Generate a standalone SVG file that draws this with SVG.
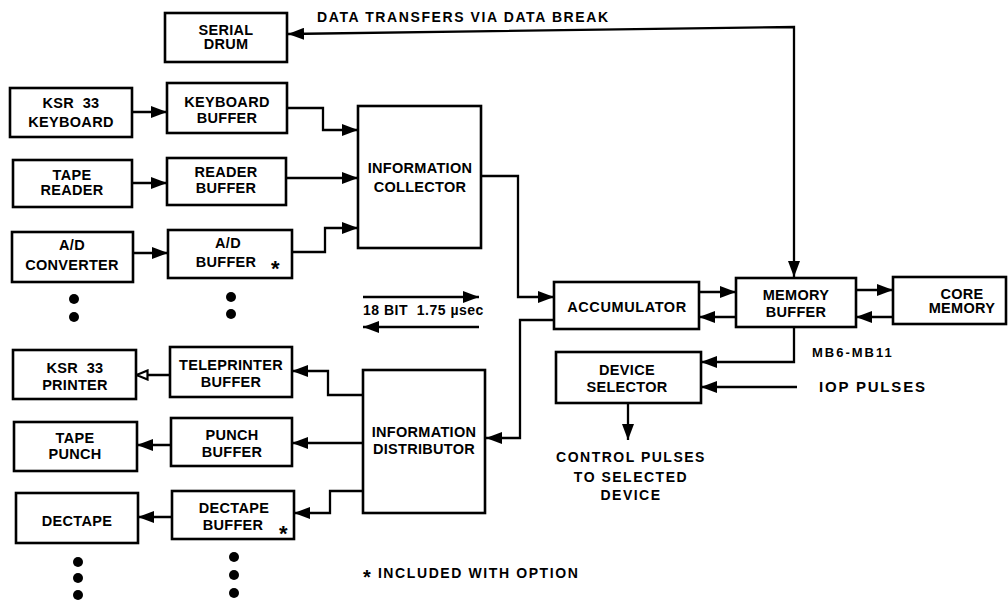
<svg xmlns="http://www.w3.org/2000/svg" width="1008" height="607" viewBox="0 0 1008 607">
  <defs>
    <style>
      .box { fill: #ffffff; stroke: #000000; stroke-width: 2.6; }
      .wire { fill: none; stroke: #000000; stroke-width: 2.3; }
      .lbl { font-family: "Liberation Sans", Arial, sans-serif; font-weight: bold; font-size: 14.5px; letter-spacing: 0.3px; fill: #000000; text-anchor: middle; }
      .note { font-family: "Liberation Sans", Arial, sans-serif; font-weight: bold; font-size: 14px; letter-spacing: 1.6px; fill: #000000; }
      .star { font-family: "Liberation Sans", Arial, sans-serif; font-weight: bold; font-size: 22px; fill: #000000; }
      .dot { fill: #000000; }
    </style>
    <marker id="arrow" markerUnits="userSpaceOnUse" markerWidth="16" markerHeight="12" refX="16" refY="6" orient="auto-start-reverse">
      <path d="M0,0 L16,6 L0,12 Z" fill="#000000"/>
    </marker>
    <marker id="arrowOpen" markerUnits="userSpaceOnUse" markerWidth="14" markerHeight="12" refX="13" refY="6" orient="auto">
      <path d="M1.5,1.5 L12.5,6 L1.5,10.5 Z" fill="#ffffff" stroke="#000000" stroke-width="2.2"/>
    </marker>
  </defs>

  <!-- connectors -->
  <g id="connectors">
    <!-- data break path between drum and memory buffer -->
    <path class="wire" d="M288,34 L794,27 L794,277" marker-start="url(#arrow)" marker-end="url(#arrow)"/>
    <!-- input devices to their buffers -->
    <path class="wire" d="M132,112 H167" marker-end="url(#arrow)"/>
    <path class="wire" d="M132,183 H167" marker-end="url(#arrow)"/>
    <path class="wire" d="M133,253 H168" marker-end="url(#arrow)"/>
    <!-- input buffers to collector -->
    <path class="wire" d="M287,108 H323 V130 H358" marker-end="url(#arrow)"/>
    <path class="wire" d="M286,178 H358" marker-end="url(#arrow)"/>
    <path class="wire" d="M292,252 H325 V228 H358" marker-end="url(#arrow)"/>
    <!-- collector / accumulator / distributor -->
    <path class="wire" d="M481,176 H518 V297 H554" marker-end="url(#arrow)"/>
    <path class="wire" d="M554,320 H520 V438 H486" marker-end="url(#arrow)"/>
    <!-- accumulator and memory buffer -->
    <path class="wire" d="M699,292 H736" marker-end="url(#arrow)"/>
    <path class="wire" d="M736,317 H699" marker-end="url(#arrow)"/>
    <!-- memory buffer and core memory -->
    <path class="wire" d="M856,290 H893" marker-end="url(#arrow)"/>
    <path class="wire" d="M893,317 H856" marker-end="url(#arrow)"/>
    <!-- device selector inputs and output -->
    <path class="wire" d="M794,327 V362 H701" marker-end="url(#arrow)"/>
    <path class="wire" d="M797,387 H701" marker-end="url(#arrow)"/>
    <path class="wire" d="M628,403 V440" marker-end="url(#arrow)"/>
    <!-- distributor to output buffers -->
    <path class="wire" d="M363,395 H328 V371 H292" marker-end="url(#arrow)"/>
    <path class="wire" d="M363,443 H292" marker-end="url(#arrow)"/>
    <path class="wire" d="M363,491 H330 V513 H294" marker-end="url(#arrow)"/>
    <!-- output buffers to devices -->
    <path class="wire" d="M170,375 H136" marker-end="url(#arrowOpen)"/>
    <path class="wire" d="M171,445 H137" marker-end="url(#arrow)"/>
    <path class="wire" d="M172,517 H138" marker-end="url(#arrow)"/>
    <!-- 18 bit transfer direction arrows -->
    <path class="wire" d="M363,297 H479" marker-end="url(#arrow)"/>
    <path class="wire" d="M479,327 H363" marker-end="url(#arrow)"/>
  </g>

  <!-- nodes -->
  <g id="serial-drum">
    <rect class="box" x="165" y="13" width="122" height="49"/>
    <text class="lbl" x="226" y="35">SERIAL</text>
    <text class="lbl" x="226" y="49">DRUM</text>
  </g>
  <g id="ksr-keyboard">
    <rect class="box" x="10" y="88" width="122" height="49"/>
    <text class="lbl" x="71" y="108" xml:space="preserve">KSR  33</text>
    <text class="lbl" x="71" y="127">KEYBOARD</text>
  </g>
  <g id="keyboard-buffer">
    <rect class="box" x="167" y="83" width="120" height="50"/>
    <text class="lbl" x="227" y="107">KEYBOARD</text>
    <text class="lbl" x="227" y="123">BUFFER</text>
  </g>
  <g id="tape-reader">
    <rect class="box" x="13" y="160" width="119" height="47"/>
    <text class="lbl" x="72" y="180">TAPE</text>
    <text class="lbl" x="72" y="195">READER</text>
  </g>
  <g id="reader-buffer">
    <rect class="box" x="167" y="158" width="119" height="47"/>
    <text class="lbl" x="226" y="177">READER</text>
    <text class="lbl" x="226" y="193">BUFFER</text>
  </g>
  <g id="ad-converter">
    <rect class="box" x="12" y="232" width="121" height="50"/>
    <text class="lbl" x="72" y="250">A/D</text>
    <text class="lbl" x="72" y="270">CONVERTER</text>
  </g>
  <g id="ad-buffer">
    <rect class="box" x="168" y="230" width="124" height="48"/>
    <text class="lbl" x="228" y="248">A/D</text>
    <text class="lbl" x="226" y="267">BUFFER</text>
    <text class="star" x="271" y="276">*</text>
  </g>
  <g id="information-collector">
    <rect class="box" x="358" y="106" width="123" height="142"/>
    <text class="lbl" x="420" y="173">INFORMATION</text>
    <text class="lbl" x="420" y="192">COLLECTOR</text>
  </g>

  <g id="ksr-printer">
    <rect class="box" x="13" y="350" width="123" height="49"/>
    <text class="lbl" x="75" y="373" xml:space="preserve">KSR  33</text>
    <text class="lbl" x="75" y="390">PRINTER</text>
  </g>
  <g id="teleprinter-buffer">
    <rect class="box" x="170" y="347" width="122" height="50"/>
    <text class="lbl" x="231" y="370">TELEPRINTER</text>
    <text class="lbl" x="231" y="387">BUFFER</text>
  </g>
  <g id="tape-punch">
    <rect class="box" x="14" y="422" width="123" height="49"/>
    <text class="lbl" x="75" y="443">TAPE</text>
    <text class="lbl" x="75" y="459">PUNCH</text>
  </g>
  <g id="punch-buffer">
    <rect class="box" x="171" y="418" width="121" height="48"/>
    <text class="lbl" x="232" y="440">PUNCH</text>
    <text class="lbl" x="232" y="457">BUFFER</text>
  </g>
  <g id="dectape">
    <rect class="box" x="16" y="493" width="122" height="50"/>
    <text class="lbl" x="77" y="526">DECTAPE</text>
  </g>
  <g id="dectape-buffer">
    <rect class="box" x="172" y="491" width="122" height="48"/>
    <text class="lbl" x="234" y="513">DECTAPE</text>
    <text class="lbl" x="233" y="530">BUFFER</text>
    <text class="star" x="279" y="541">*</text>
  </g>
  <g id="information-distributor">
    <rect class="box" x="363" y="370" width="122" height="143"/>
    <text class="lbl" x="424" y="437">INFORMATION</text>
    <text class="lbl" x="424" y="454">DISTRIBUTOR</text>
  </g>

  <g id="accumulator">
    <rect class="box" x="554" y="282" width="145" height="47"/>
    <text class="lbl" x="627" y="312" style="letter-spacing:0.6px">ACCUMULATOR</text>
  </g>
  <g id="memory-buffer">
    <rect class="box" x="736" y="278" width="120" height="49"/>
    <text class="lbl" x="796" y="300">MEMORY</text>
    <text class="lbl" x="796" y="317">BUFFER</text>
  </g>
  <g id="core-memory">
    <rect class="box" x="893" y="277" width="113" height="47"/>
    <text class="lbl" x="962" y="299">CORE</text>
    <text class="lbl" x="962" y="313">MEMORY</text>
  </g>
  <g id="device-selector">
    <rect class="box" x="556" y="352" width="145" height="51"/>
    <text class="lbl" x="627" y="375">DEVICE</text>
    <text class="lbl" x="627" y="392">SELECTOR</text>
  </g>

  <!-- continuation dots -->
  <g id="continuation-dots">
    <circle class="dot" cx="74" cy="299" r="5"/>
    <circle class="dot" cx="74" cy="317" r="5"/>
    <circle class="dot" cx="231" cy="297" r="5"/>
    <circle class="dot" cx="231" cy="314" r="5"/>
    <circle class="dot" cx="78" cy="562" r="5"/>
    <circle class="dot" cx="78" cy="578" r="5"/>
    <circle class="dot" cx="78" cy="595" r="5"/>
    <circle class="dot" cx="234" cy="557" r="5"/>
    <circle class="dot" cx="234" cy="575" r="5"/>
    <circle class="dot" cx="234" cy="593" r="5"/>
  </g>

  <!-- free labels -->
  <g id="labels">
    <text class="note" x="317" y="22">DATA TRANSFERS VIA DATA BREAK</text>
    <text class="note" x="363" y="315" style="letter-spacing:0.5px" xml:space="preserve">18 BIT  1.75 µsec</text>
    <text class="note" x="812" y="357" style="font-size:13px;letter-spacing:2px">MB6-MB11</text>
    <text class="note" x="819" y="392" style="font-size:15px;letter-spacing:1.8px">IOP PULSES</text>
    <text class="note" x="631" y="462" style="text-anchor:middle;letter-spacing:1.5px">CONTROL PULSES</text>
    <text class="note" x="631" y="482" style="text-anchor:middle;letter-spacing:1.5px">TO SELECTED</text>
    <text class="note" x="631" y="500" style="text-anchor:middle;letter-spacing:1.5px">DEVICE</text>
    <text class="note" x="363" y="578"><tspan style="font-size:20px" dy="6">*</tspan><tspan dy="-6"> INCLUDED WITH OPTION</tspan></text>
  </g>
</svg>
